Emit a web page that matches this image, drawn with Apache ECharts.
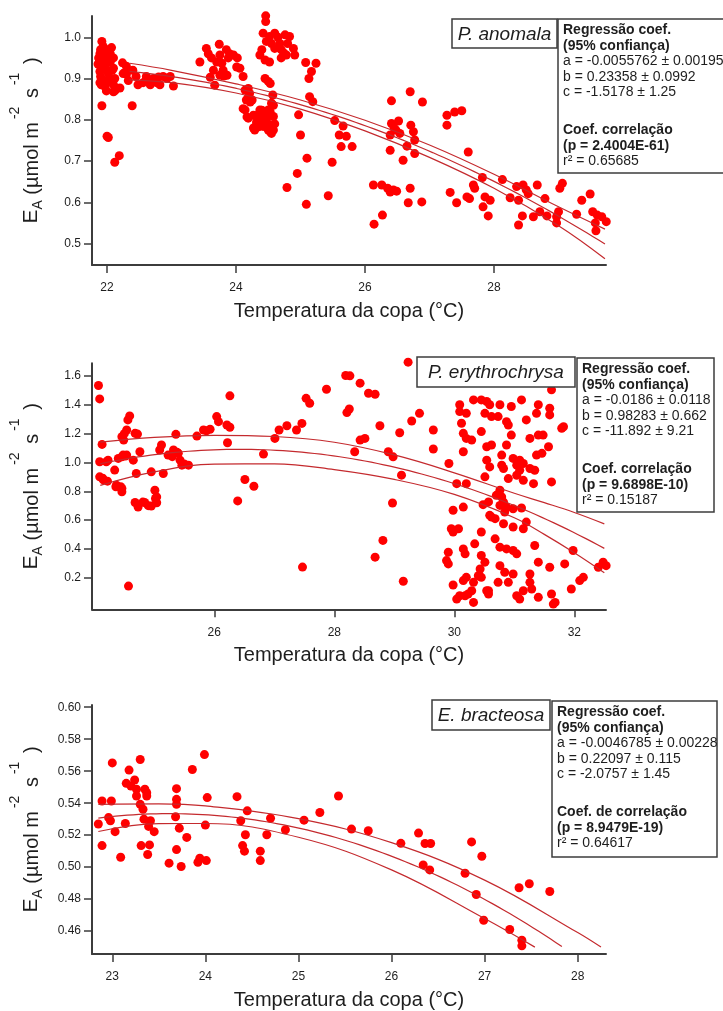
<!DOCTYPE html>
<html>
<head>
<meta charset="utf-8">
<script src="https://cdn.jsdelivr.net/npm/echarts@6/dist/echarts.min.js"></script>
<style>
  html, body { margin: 0; padding: 0; background: #fff; }
  #chart { width: 723px; height: 1011px; }
</style>
</head>
<body>
<div id="chart"></div>
<script>
// ---- Fonts and colours ----
const FONT = '"Liberation Sans", Arial, Helvetica, sans-serif';
const AXIS_COLOR = '#3c3c3c';
const TEXT_COLOR = '#1e1e1e';
const DOT_COLOR = '#ff0000';
const FIT_COLOR = '#c42a2e';

// ---- P. anomala: [canopy temperature °C, E_A] ----
const anomalaPts = [
  [21.87,0.95],[21.89,0.96],[21.92,0.99],[21.94,0.978],[21.9,0.97],[21.95,0.965],[22.0,0.97],[22.05,0.96],
  [22.03,0.95],[21.88,0.94],[21.93,0.945],[21.97,0.93],[22.05,0.94],[22.1,0.95],[21.89,0.917],[21.95,0.925],
  [22.02,0.913],[22.08,0.92],[22.1,0.925],[21.94,0.897],[21.9,0.905],[22.05,0.9],[21.97,0.88],[22.0,0.89],
  [22.1,0.885],[21.89,0.89],[22.12,0.9],[22.12,0.87],[22.2,0.877],[22.15,0.876],[22.1,0.868],[21.99,0.87],
  [21.92,0.834],[22.0,0.76],[22.02,0.757],[22.12,0.697],[22.19,0.713],[21.96,0.955],[22.07,0.975],[21.86,0.935],
  [21.91,0.885],
  [22.24,0.938],[22.3,0.93],[22.28,0.915],[22.33,0.895],[22.3,0.91],[22.39,0.834],[22.4,0.92],[22.45,0.905],
  [22.48,0.885],[22.56,0.89],[22.61,0.905],[22.67,0.885],[22.72,0.9],[22.77,0.89],[22.82,0.885],[22.87,0.905],
  [22.93,0.9],[22.98,0.905],[23.03,0.882],[22.25,0.912],[22.6,0.895],[22.8,0.904],
  [23.44,0.94],[23.54,0.973],[23.57,0.96],[23.62,0.95],[23.6,0.903],[23.67,0.884],[23.74,0.983],[23.75,0.957],
  [23.78,0.937],[23.8,0.92],[23.85,0.97],[23.88,0.95],[23.9,0.96],[23.75,0.908],[23.81,0.906],[23.96,0.957],
  [24.02,0.95],[24.06,0.925],[24.11,0.905],[23.7,0.94],[23.65,0.92],[23.86,0.908],[24.01,0.928],
  [24.14,0.872],[24.19,0.855],[24.22,0.843],[24.11,0.827],[24.17,0.807],[24.27,0.811],[24.32,0.795],[24.4,0.823],
  [24.42,0.787],[24.48,0.807],[24.5,0.775],[24.53,0.819],[24.55,0.767],[24.58,0.835],[24.57,0.86],[24.45,0.9],
  [24.53,0.888],[24.35,0.783],[24.29,0.775],[24.58,0.775],[24.52,0.788],[24.47,0.8],[24.42,0.808],[24.32,0.792],
  [24.27,0.78],[24.19,0.804],[24.14,0.824],[24.21,0.864],[24.19,0.876],[24.25,0.848],[24.58,0.808],[24.5,0.824],
  [24.37,0.824],[24.34,0.812],[24.42,0.784],[24.53,0.771],[24.16,0.848],[24.55,0.84],[24.6,0.79],[24.45,0.795],
  [24.38,0.8],
  [24.46,1.052],[24.46,1.038],[24.42,1.01],[24.52,1.002],[24.6,1.01],[24.47,0.99],[24.4,0.97],[24.37,0.957],
  [24.45,0.945],[24.52,0.94],[24.68,0.985],[24.7,0.97],[24.78,0.957],[24.76,1.006],[24.83,1.002],[24.89,0.973],
  [24.7,0.95],[24.6,0.973],[24.91,0.957],[24.5,0.893],[24.55,0.985],[24.65,1.0],[24.8,0.985],[24.74,0.962],
  [24.79,0.636],[24.95,0.67],[24.97,0.812],[25.0,0.763],[25.1,0.707],[25.09,0.595],[25.08,0.939],[25.24,0.937],
  [25.17,0.917],[25.13,0.9],[25.14,0.856],[25.19,0.844],[25.43,0.616],[25.49,0.697],[25.53,0.798],[25.66,0.785],
  [25.6,0.763],[25.71,0.76],[25.63,0.735],[25.8,0.735],
  [26.13,0.642],[26.14,0.547],[26.27,0.569],[26.26,0.642],[26.35,0.634],[26.39,0.625],[26.49,0.627],[26.39,0.726],
  [26.41,0.846],[26.41,0.791],[26.52,0.797],[26.39,0.763],[26.48,0.775],[26.54,0.767],[26.59,0.702],[26.65,0.736],
  [26.7,0.868],[26.71,0.787],[26.75,0.771],[26.77,0.751],[26.77,0.718],[26.7,0.634],[26.67,0.599],[26.88,0.601],
  [26.89,0.843],[26.44,0.63],[26.45,0.78],
  [27.27,0.811],[27.27,0.787],[27.39,0.819],[27.5,0.822],[27.6,0.722],[27.32,0.624],[27.42,0.599],[27.58,0.613],
  [27.62,0.609],[27.68,0.642],[27.7,0.634],[27.82,0.66],[27.86,0.613],[27.83,0.589],[27.94,0.605],[27.91,0.567],
  [28.13,0.655],[28.25,0.611],[28.38,0.605],[28.38,0.545],[28.35,0.638],[28.45,0.642],[28.5,0.63],[28.53,0.621],
  [28.44,0.567],[28.61,0.565],[28.67,0.642],[28.71,0.577],[28.79,0.609],[28.82,0.567],[28.97,0.565],[29.0,0.577],
  [28.97,0.55],[29.02,0.634],[29.06,0.646],[29.28,0.571],[29.36,0.605],[29.49,0.62],[29.53,0.577],[29.6,0.569],
  [29.57,0.55],[29.58,0.531],[29.67,0.565],[29.74,0.553]
];

// ---- P. erythrochrysa ----
const erythroPts = [
  [24.07,1.534],[24.09,1.441],[24.13,1.125],[24.09,1.005],[24.2,1.004],[24.09,0.9],[24.14,0.89],[24.22,0.87],
  [24.23,1.016],[24.34,0.947],[24.36,0.831],[24.4,1.028],[24.46,1.179],[24.48,1.051],[24.44,0.831],[24.46,0.796],
  [24.49,1.155],[24.54,1.225],[24.56,1.295],[24.59,1.323],[24.54,1.051],[24.57,0.142],[24.65,1.016],[24.68,1.202],
  [24.72,1.197],[24.7,0.923],[24.68,0.722],[24.73,0.691],[24.76,1.074],[24.84,0.722],[24.95,0.935],[24.95,0.698],
  [25.01,0.807],[25.04,0.761],[25.04,0.72],[25.09,1.086],[25.12,1.121],[25.15,0.923],[25.23,1.051],[25.32,1.086],
  [25.36,1.195],[25.4,1.063],[25.43,1.016],[25.46,0.981],[25.57,0.981],[25.3,1.04],[25.38,1.07],[25.5,0.99],
  [24.37,0.842],[24.46,0.819],[24.46,1.039],[24.52,1.045],[24.81,0.725],[25.02,0.75],[24.5,1.2],[24.9,0.7],
  [24.15,0.88],
  [25.71,1.183],[25.82,1.225],[25.93,1.23],[25.87,1.22],[26.04,1.318],[26.07,1.283],[26.21,1.26],[26.26,1.462],
  [26.26,1.244],[26.22,1.137],[26.39,0.733],[26.51,0.882],[26.66,0.835],[26.82,1.058],[27.01,1.167],[27.08,1.225],
  [27.21,1.255],[27.37,1.225],[27.46,1.271],[27.47,0.274],[27.53,1.445],[27.59,1.411],[27.87,1.508],[28.19,1.603],
  [28.26,1.601],[28.21,1.346],[28.25,1.371],[28.34,1.074],[28.43,1.155],[28.51,1.167],[28.43,1.55],[28.57,1.48],
  [28.68,1.473],[28.76,1.255],[28.68,0.343],[28.81,0.459],[28.9,1.074],[28.98,1.039],[28.97,0.719],[29.09,1.206],
  [29.12,0.912],[29.15,0.176],[29.23,1.696],[29.29,1.288],[29.42,1.341],[29.65,1.225],[29.65,1.093],
  [29.91,0.993],[30.04,0.853],[29.98,0.668],[29.95,0.54],[29.98,0.517],[29.9,0.377],[29.87,0.319],[29.9,0.296],
  [29.98,0.15],[30.04,0.052],[30.09,1.4],[30.09,1.353],[30.2,1.341],[30.12,1.272],[30.15,1.202],[30.2,1.167],
  [30.29,1.155],[30.15,1.074],[30.2,0.853],[30.15,0.69],[30.07,0.54],[30.15,0.4],[30.18,0.366],[30.15,0.18],
  [30.2,0.203],[30.09,0.075],[30.18,0.075],[30.23,0.087],[30.32,0.029],[30.29,0.11],[30.32,1.434],[30.45,1.434],
  [30.54,1.423],[30.51,1.341],[30.59,1.4],[30.62,1.318],[30.73,1.318],[30.45,1.214],[30.54,1.109],[30.62,1.121],
  [30.54,1.016],[30.59,0.969],[30.51,0.9],[30.48,0.707],[30.59,0.633],[30.68,0.61],[30.45,0.517],[30.34,0.435],
  [30.45,0.354],[30.51,0.308],[30.43,0.261],[30.4,0.214],[30.45,0.203],[30.54,0.11],[30.57,0.087],[30.32,0.168],
  [30.68,0.47],[30.79,1.051],[30.79,0.981],[30.82,0.958],[30.76,1.4],[30.87,1.283],[30.9,1.26],[30.87,1.121],
  [30.95,1.388],[30.95,1.19],[30.98,1.028],[31.04,0.981],[31.09,1.016],[31.15,0.993],[31.09,0.946],[30.9,0.888],
  [31.04,0.911],[31.15,0.876],[31.26,0.958],[31.32,0.853],[31.34,0.946],[31.37,1.051],[31.46,1.063],[31.26,1.167],
  [31.4,1.19],[31.48,1.19],[31.57,1.109],[31.12,1.434],[31.2,1.295],[31.4,1.4],[31.37,1.341],[31.59,1.376],
  [31.59,1.33],[31.62,1.504],[31.79,1.237],[31.82,1.248],[31.62,0.865],[30.76,0.807],[30.79,0.76],[30.82,0.725],
  [30.87,0.69],[30.84,0.656],[30.76,0.702],[30.7,0.772],[30.98,0.679],[31.12,0.684],[31.2,0.586],[31.15,0.54],
  [30.98,0.552],[30.82,0.575],[30.57,0.726],[30.62,0.621],[30.76,0.412],[30.87,0.4],[30.98,0.389],[31.04,0.366],
  [30.76,0.284],[30.84,0.238],[30.98,0.226],[30.73,0.168],[30.9,0.168],[30.57,0.11],[31.09,0.052],[31.04,0.075],
  [31.15,0.11],[31.26,0.226],[31.26,0.168],[31.29,0.122],[31.34,0.424],[31.4,0.308],[31.4,0.064],[31.59,0.273],
  [31.62,0.087],[31.68,0.029],[31.65,0.017],[31.84,0.296],[31.98,0.389],[31.95,0.122],[32.09,0.18],[32.15,0.203],
  [32.4,0.273],[32.48,0.308],[32.53,0.284]
];

// ---- E. bracteosa ----
const bracteosaPts = [
  [22.85,0.527],[22.89,0.5414],[22.89,0.5135],[22.96,0.531],[22.98,0.529],[22.99,0.5414],[23.0,0.5652],[23.03,0.5222],
  [23.09,0.5062],[23.14,0.5273],[23.15,0.5524],[23.18,0.5607],[23.2,0.5507],[23.24,0.5545],[23.26,0.5487],[23.26,0.5445],
  [23.3,0.5673],[23.3,0.5393],[23.31,0.5135],[23.33,0.5362],[23.34,0.53],[23.35,0.5487],[23.37,0.5466],[23.37,0.5445],
  [23.38,0.5079],[23.39,0.5255],[23.4,0.5139],[23.41,0.529],[23.45,0.5222],[23.61,0.5025],[23.68,0.5315],[23.69,0.5491],
  [23.69,0.5424],[23.69,0.5393],[23.69,0.511],[23.72,0.5244],[23.74,0.5004],[23.8,0.5186],[23.86,0.5611],[23.92,0.5031],
  [23.94,0.5056],[23.99,0.5704],[24.0,0.5263],[24.01,0.5041],[24.02,0.5435],[24.34,0.5441],[24.38,0.529],[24.4,0.5135],
  [24.42,0.51],[24.43,0.5203],[24.45,0.5352],[24.59,0.51],[24.59,0.5041],[24.66,0.5203],[24.7,0.5306],[24.86,0.5234],
  [25.06,0.5294],[25.23,0.5342],[25.43,0.5445],[25.57,0.5238],[25.75,0.5228],[26.1,0.5149],[26.29,0.5213],[26.36,0.5148],
  [26.42,0.5148],[26.34,0.5014],[26.41,0.4983],[26.79,0.4962],[26.86,0.5158],[26.97,0.5068],[26.91,0.4829],[26.99,0.4668],
  [27.27,0.461],[27.37,0.4871],[27.48,0.4896],[27.7,0.4848],[27.4,0.4543],[27.4,0.4508]
];

// ---- Quadratic regression E_A = a·T² + b·T + c (coefficients as printed) ----
const anomalaCoef = [-0.0055762, 0.23358, -1.5178];
const erythroCoef = [-0.0186, 0.98283, -11.892];
const bracteosaCoef = [-0.0046785, 0.22097, -2.0757];
const anomalaFitSpan = [22.35, 29.72];
const erythroFitSpan = [24.1, 32.5];
const bracteosaFitSpan = [22.85, 27.83];

// ---- 95% confidence bands ----
const anomalaBandT  = [22.35, 23, 24, 25, 26, 27, 28, 29, 29.72];
const anomalaBandHi = [0.937, 0.920, 0.887, 0.848, 0.799, 0.739, 0.668, 0.589, 0.535];
const anomalaBandLo = [0.897, 0.890, 0.865, 0.826, 0.773, 0.709, 0.634, 0.543, 0.463];

const erythroBandT  = [24.1, 25, 26, 27, 28, 29, 30, 31, 31.5, 32, 32.5];
const erythroBandHi = [1.141, 1.174, 1.188, 1.180, 1.140, 1.052, 0.928, 0.786, 0.721, 0.653, 0.574];
const erythroBandLo = [0.841, 0.934, 0.988, 0.990, 0.950, 0.882, 0.778, 0.616, 0.501, 0.373, 0.234];

const bracteosaHiT  = [22.85, 23.5, 24, 25, 26, 27, 28, 28.25];
const bracteosaBandHi = [0.5393, 0.5396, 0.5383, 0.5303, 0.5153, 0.4919, 0.4591, 0.450];
const bracteosaLoT  = [22.85, 23.5, 24, 25, 26, 27, 27.54];
const bracteosaBandLo = [0.5223, 0.5272, 0.5273, 0.5187, 0.4983, 0.4679, 0.450];

// ---- Tick labels ----
const anomalaXTicks = [22, 24, 26, 28];
const anomalaYTicks = [0.5, 0.6, 0.7, 0.8, 0.9, 1.0];
const erythroXTicks = [26, 28, 30, 32];
const erythroYTicks = [0.2, 0.4, 0.6, 0.8, 1.0, 1.2, 1.4, 1.6];
const bracteosaXTicks = [23, 24, 25, 26, 27, 28];
const bracteosaYTicks = [0.46, 0.48, 0.50, 0.52, 0.54, 0.56, 0.58, 0.60];

// ---- Regression boxes text ----
const anomalaStats = ['Regressão coef.', '(95% confiança)', 'a = -0.0055762 ± 0.00195', 'b = 0.23358 ± 0.0992',
  'c = -1.5178 ± 1.25', 'Coef. correlação', '(p = 2.4004E-61)', 'r² = 0.65685'];
const erythroStats = ['Regressão coef.', '(95% confiança)', 'a = -0.0186 ± 0.0118', 'b = 0.98283 ± 0.662',
  'c = -11.892 ± 9.21', 'Coef. correlação', '(p = 9.6898E-10)', 'r² = 0.15187'];
const bracteosaStats = ['Regressão coef.', '(95% confiança)', 'a = -0.0046785 ± 0.00228', 'b = 0.22097 ± 0.115',
  'c = -2.0757 ± 1.45', 'Coef. de correlação', '(p = 8.9479E-19)', 'r² = 0.64617'];

function quadCurve(coef, span, steps) {
  const [a, b, c] = coef;
  const out = [];
  for (let k = 0; k <= steps; k++) {
    const t = span[0] + (span[1] - span[0]) * k / steps;
    out.push([t, a * t * t + b * t + c]);
  }
  return out;
}
const zip = (xs, ys) => xs.map((x, i) => [x, ys[i]]);

// Panel layout (pixels) and axis extents
const panels = [
  { pts: anomalaPts, coef: anomalaCoef, span: anomalaFitSpan,
    hi: zip(anomalaBandT, anomalaBandHi), lo: zip(anomalaBandT, anomalaBandLo),
    top: 16, height: 249, xMin: 21.767, xMax: 29.736, yMin: 0.448, yMax: 1.0516,
    xTicks: anomalaXTicks, yTicks: anomalaYTicks, yDec: 1,
    species: 'P. anomala', spBox: [452, 19, 105, 29],
    stats: anomalaStats, stBox: [558, 19, 170, 154] },
  { pts: erythroPts, coef: erythroCoef, span: erythroFitSpan,
    hi: zip(erythroBandT, erythroBandHi), lo: zip(erythroBandT, erythroBandLo),
    top: 363.3, height: 246, xMin: 23.962, xMax: 32.528, yMin: -0.019, yMax: 1.688,
    xTicks: erythroXTicks, yTicks: erythroYTicks, yDec: 1,
    species: 'P. erythrochrysa', spBox: [417, 357, 158, 30],
    stats: erythroStats, stBox: [577, 358, 137, 154] },
  { pts: bracteosaPts, coef: bracteosaCoef, span: bracteosaFitSpan,
    hi: zip(bracteosaHiT, bracteosaBandHi), lo: zip(bracteosaLoT, bracteosaBandLo),
    top: 705, height: 250.7, xMin: 22.782, xMax: 28.304, yMin: 0.4457, yMax: 0.6014,
    xTicks: bracteosaXTicks, yTicks: bracteosaYTicks, yDec: 2,
    species: 'E. bracteosa', spBox: [432, 700, 118, 30],
    stats: bracteosaStats, stBox: [552, 701, 165, 156] }
];

const grid = [], xAxis = [], yAxis = [], series = [], graphic = [];
const lineOffsets = [11.5, 27, 42.5, 58, 73.5, 111, 127, 142.5];
const boldLines = [0, 1, 5, 6];

panels.forEach((p, i) => {
  grid.push({ left: 92, width: 514, top: p.top, height: p.height, containLabel: false });
  xAxis.push({
    gridIndex: i, type: 'value', min: p.xMin, max: p.xMax,
    axisLine: { show: true, onZero: false, lineStyle: { color: AXIS_COLOR, width: 2 } },
    axisTick: { show: true, length: 8, customValues: p.xTicks, lineStyle: { color: AXIS_COLOR, width: 1.5 } },
    axisLabel: { customValues: p.xTicks, margin: 17, fontSize: 12, fontFamily: FONT, color: TEXT_COLOR,
      formatter: v => String(Math.round(v)) },
    splitLine: { show: false },
    name: 'Temperatura da copa (°C)', nameLocation: 'middle', nameGap: 36,
    nameTextStyle: { fontSize: 20, fontFamily: FONT, color: TEXT_COLOR }
  });
  yAxis.push({
    gridIndex: i, type: 'value', min: p.yMin, max: p.yMax,
    axisLine: { show: true, onZero: false, lineStyle: { color: AXIS_COLOR, width: 2 } },
    axisTick: { show: true, length: 8, customValues: p.yTicks, lineStyle: { color: AXIS_COLOR, width: 1.5 } },
    axisLabel: { customValues: p.yTicks, margin: 11, fontSize: 12, fontFamily: FONT, color: TEXT_COLOR,
      formatter: v => v.toFixed(p.yDec) },
    splitLine: { show: false },
    name: '{e|E}{sub|A}{t| (µmol m}{sup|-2}{t| s}{sup|-1}{t| )}',
    nameLocation: 'middle', nameGap: 50, nameRotate: 90,
    nameTextStyle: {
      fontFamily: FONT, color: TEXT_COLOR,
      rich: {
        e: { fontSize: 21, fontFamily: FONT, color: TEXT_COLOR, lineHeight: 34, verticalAlign: 'bottom' },
        sub: { fontSize: 14, fontFamily: FONT, color: TEXT_COLOR, lineHeight: 34, verticalAlign: 'bottom', padding: [0, 0, -3, 0] },
        t: { fontSize: 20, fontFamily: FONT, color: TEXT_COLOR, lineHeight: 34, verticalAlign: 'bottom' },
        sup: { fontSize: 14, fontFamily: FONT, color: TEXT_COLOR, lineHeight: 34, verticalAlign: 'top', padding: [0, 3, 0, 3] }
      }
    }
  });

  series.push({
    type: 'scatter', xAxisIndex: i, yAxisIndex: i, data: p.pts,
    symbol: 'circle', symbolSize: 9, itemStyle: { color: DOT_COLOR, opacity: 1 },
    clip: false, silent: true, z: 2
  });
  const lineBase = {
    type: 'line', xAxisIndex: i, yAxisIndex: i, showSymbol: false, silent: true,
    lineStyle: { color: FIT_COLOR, width: 1.2 }, z: 3, clip: false
  };
  series.push(Object.assign({}, lineBase, { data: p.hi, smooth: 0.4 }));
  series.push(Object.assign({}, lineBase, { data: quadCurve(p.coef, p.span, 80), smooth: false }));
  series.push(Object.assign({}, lineBase, { data: p.lo, smooth: 0.4 }));

  // species label box
  const [sx, sy, sw, sh] = p.spBox;
  graphic.push({ type: 'rect', shape: { x: sx, y: sy, width: sw, height: sh },
    style: { fill: '#fff', stroke: AXIS_COLOR, lineWidth: 1.5 }, z: 10 });
  graphic.push({ type: 'text', x: sx + sw / 2, y: sy + sh / 2 + 1, z: 11,
    style: { text: p.species, font: 'italic 19px ' + FONT, fill: TEXT_COLOR, align: 'center', verticalAlign: 'middle' } });

  // regression statistics box
  const [bx, by, bw, bh] = p.stBox;
  graphic.push({ type: 'rect', shape: { x: bx, y: by, width: bw, height: bh },
    style: { fill: '#fff', stroke: AXIS_COLOR, lineWidth: 1.5 }, z: 10 });
  p.stats.forEach((line, k) => {
    graphic.push({ type: 'text', x: bx + 5, y: by + lineOffsets[k], z: 11,
      style: { text: line, font: (boldLines.includes(k) ? 'bold ' : '') + '14px ' + FONT,
        fill: TEXT_COLOR, align: 'left', verticalAlign: 'middle' } });
  });
});

const chart = echarts.init(document.getElementById('chart'), null, { renderer: 'canvas' });
chart.setOption({
  animation: false,
  backgroundColor: '#ffffff',
  grid, xAxis, yAxis, series, graphic
});
</script>
</body>
</html>
